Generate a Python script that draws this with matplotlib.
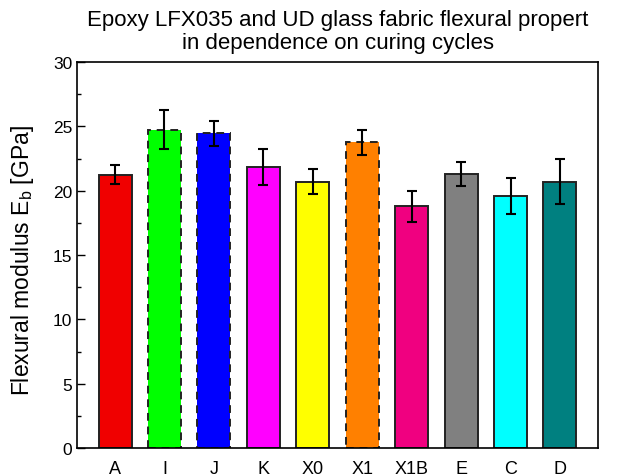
import matplotlib
matplotlib.use("Agg")
import matplotlib.pyplot as plt
import numpy as np

plt.rcParams['font.family'] = ['Liberation Sans', 'DejaVu Sans']

categories = ["A", "I", "J", "K", "X0", "X1", "X1B", "E", "C", "D"]
modulus = [21.25, 24.75, 24.45, 21.85, 20.7, 23.75, 18.8, 21.3, 19.6, 20.7]
errors = [0.75, 1.5, 0.95, 1.4, 0.95, 0.95, 1.2, 0.9, 1.38, 1.73]
colors = ["#f00000", "#00ff00", "#0000ff", "#ff00ff", "#ffff00",
          "#ff8000", "#f00080", "#808080", "#00ffff", "#008080"]
dashed = ["I", "J", "X1"]

fig = plt.figure(figsize=(6.17, 4.77), dpi=100)
ax = fig.add_axes([77/617, 1-449/477, (598-77)/617, (449-63)/477])

x = np.arange(len(categories))
for i, (c, v, e, col) in enumerate(zip(categories, modulus, errors, colors)):
    ls = (0, (4, 3)) if c in dashed else '-'
    ax.bar(x[i], v, width=0.67, color=col, edgecolor='#222222',
           linewidth=1.4, linestyle=ls, zorder=2)
    ax.errorbar(x[i], v, yerr=e, fmt='none', ecolor='black',
                elinewidth=1.5, capsize=3.6, capthick=1.5, zorder=3)

ax.set_xlim(-0.77, 9.77)
ax.set_ylim(0, 30)
ax.set_xticks(x)
ax.set_xticklabels(categories, fontsize=13)
ax.set_yticks(np.arange(0, 31, 5))
ax.set_yticks(np.arange(2.5, 30, 5), minor=True)
ax.tick_params(axis='y', direction='in', length=6, width=1, labelsize=12.5, right=False)
ax.tick_params(axis='y', which='minor', direction='in', length=3, width=1)
ax.tick_params(axis='x', length=0, labelsize=13, pad=9)
for s in ax.spines.values():
    s.set_linewidth(1.2)

fig.text(23/617, 1-261/477, "Flexural modulus E$_\\mathregular{b}$ [GPa]", fontsize=16.5,
         rotation=90, ha='center', va='center')
fig.text(338/617, 1-32/477, "Epoxy LFX035 and UD glass fabric flexural propert\nin dependence on curing cycles",
         ha='center', va='center', fontsize=16, linespacing=1.15)

fig.savefig("out.png", dpi=100)
